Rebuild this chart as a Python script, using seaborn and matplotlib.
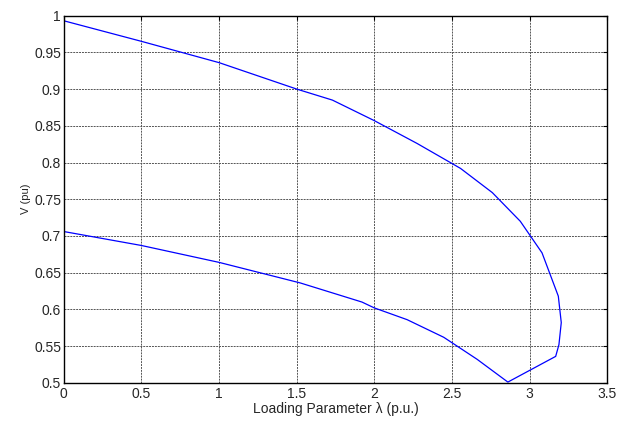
import pandas as pd
import matplotlib
matplotlib.use("Agg")
import matplotlib.pyplot as plt
import seaborn as sns

# P-V curve: upper branch then back along the lower branch
lam = [0.0, 0.5, 1.0, 1.5, 1.73, 2.0, 2.275, 2.555, 2.76, 2.94, 3.08, 3.185,
       3.204, 3.189, 3.168, 2.86, 2.662, 2.447, 2.211, 2.0, 1.92, 1.523,
       1.0, 0.5, 0.0]
volt = [0.993, 0.965, 0.936, 0.900, 0.885, 0.857, 0.826, 0.792, 0.759, 0.720,
        0.677, 0.618, 0.582, 0.552, 0.536, 0.501, 0.532, 0.562, 0.586, 0.602,
        0.610, 0.636, 0.664, 0.687, 0.706]
xticks = [0, 0.5, 1, 1.5, 2, 2.5, 3, 3.5]
yticks = [0.5, 0.55, 0.6, 0.65, 0.7, 0.75, 0.8, 0.85, 0.9, 0.95, 1]

sns.set_style("white")
plt.rcParams['font.family'] = ['Liberation Sans', 'DejaVu Sans']

df = pd.DataFrame({'lam': lam, 'V': volt})

fig = plt.figure(figsize=(6.26, 4.23), dpi=100)
ax = fig.add_axes([0.102, 0.095, 0.868, 0.868])
sns.lineplot(data=df, x='lam', y='V', sort=False, estimator=None,
             color='#0000ff', linewidth=0.9, ax=ax)

ax.set_xlim(0, 3.5)
ax.set_ylim(0.5, 1)
ax.set_xticks(xticks)
ax.set_xticklabels(['0', '0.5', '1', '1.5', '2', '2.5', '3', '3.5'])
ax.set_yticks(yticks)
ax.set_yticklabels(['0.5', '0.55', '0.6', '0.65', '0.7', '0.75', '0.8',
                    '0.85', '0.9', '0.95', '1'])
ax.grid(True, color='#555555', linestyle=(0, (2, 1)), linewidth=0.7)
ax.tick_params(direction='in', length=3, labelsize=10, top=True, right=True,
               pad=2, color='black')
ax.tick_params(axis='x', pad=3)
for s in ax.spines.values():
    s.set_color('black')
    s.set_linewidth(1.0)
ax.set_xlabel('Loading Parameter λ (p.u.)', fontsize=10, labelpad=1)
ax.set_ylabel('V (pu)', fontsize=8, labelpad=2)

fig.savefig('out.png', dpi=100)
